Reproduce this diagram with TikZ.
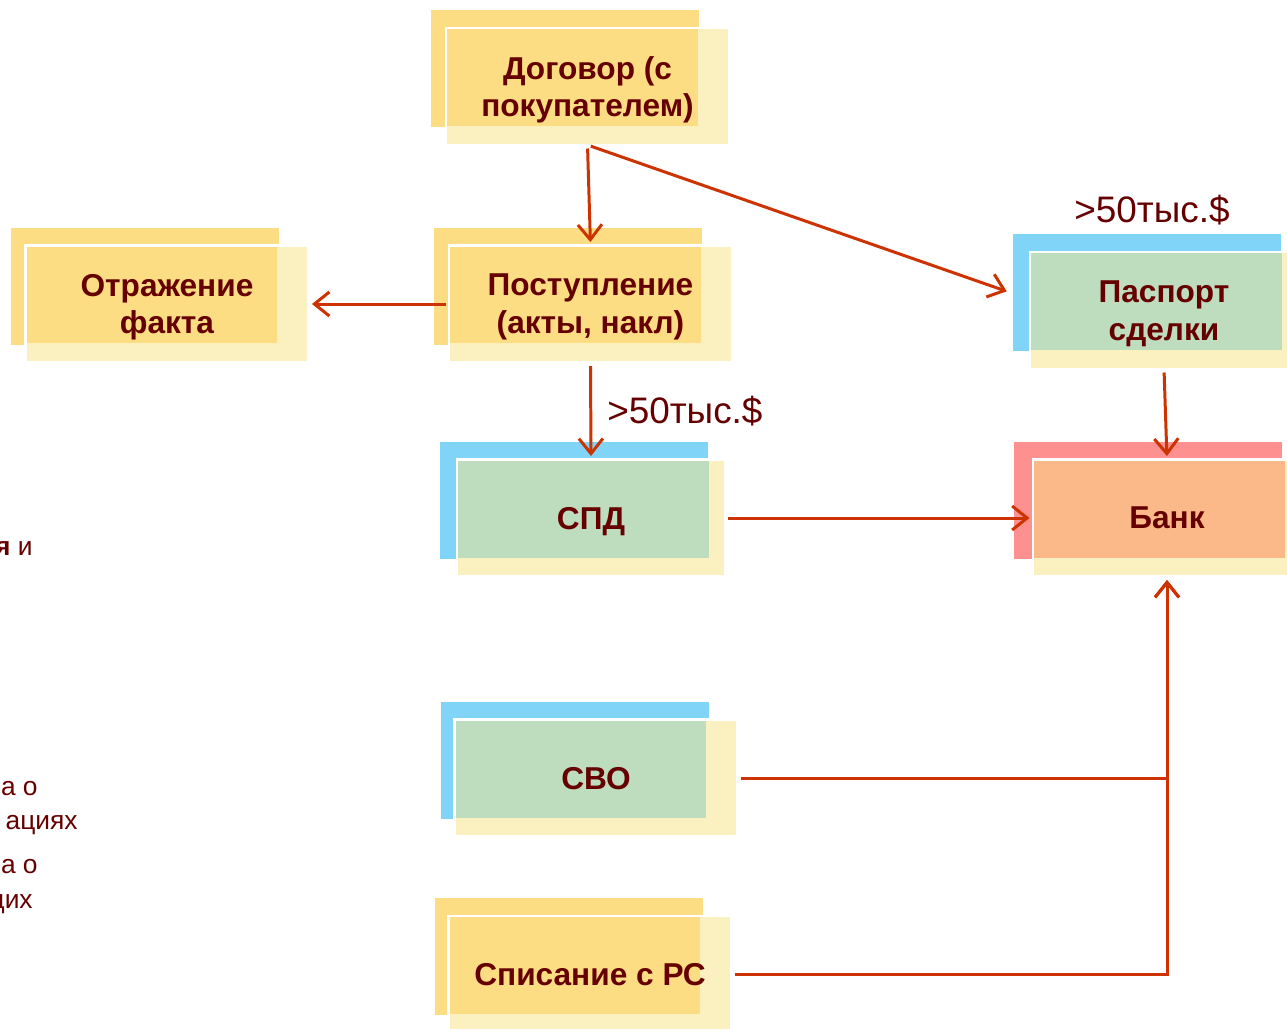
\documentclass[tikz,border=0pt]{standalone}
\usepackage{fontspec}
\setmainfont{Liberation Sans}
\usetikzlibrary{positioning}
\usetikzlibrary{arrows.meta}
\usetikzlibrary{backgrounds}
\usetikzlibrary{calc}

\definecolor{backyellow}{HTML}{FCDD84}
\definecolor{paleyellow}{HTML}{FBF0C0}
\definecolor{backblue}{HTML}{80D4F7}
\definecolor{frontgreen}{HTML}{BEDCBE}
\definecolor{backpink}{HTML}{FF9090}
\definecolor{frontorange}{HTML}{FBB98A}
\definecolor{darktext}{HTML}{660000}
\definecolor{arrowred}{HTML}{CC3300}

\begin{document}
\begin{tikzpicture}[x=0.02cm,y=-0.02cm,
	>={Straight Barb[length=3mm,width=4.8mm]},
	flow/.style={->,draw=arrowred,line width=1.7pt,shorten >=2pt,shorten <=2pt},
	doc box/.style={rectangle,inner sep=0pt,outer sep=0pt,
		minimum width=5.66cm,minimum height=2.34cm,text depth=0pt,
		fill=paleyellow,draw=white,line width=1.5pt,
		text=darktext,align=center,font=\bfseries\fontsize{18}{21.5}\selectfont,
		path picture={\fill[#1] (path picture bounding box.north west) rectangle ++(5.04cm,-1.96cm);}},
	narrow/.style={minimum width=5.36cm},
	limit/.style={text=darktext,font=\fontsize{21}{25}\selectfont,inner sep=0pt},
	cut text/.style={text=darktext,font=\fontsize{15}{18}\selectfont,inner sep=0pt,anchor=east}]
	
	\useasboundingbox (0,0) rectangle (1287,1028);
	\clip (0,0) rectangle (1287,1028);
	
	\node[doc box=backyellow] (contract) at (587.5,86.5) {Договор (с\\покупателем)};
	\node[doc box=backyellow] (record) at (167,304) {Отражение\\факта};
	\node[doc box=backyellow] (receipt) at (590.5,304) {Поступление\\(акты, накл)};
	\node[doc box=frontgreen, narrow] (passport) at (1164,310.5) {Паспорт\\сделки};
	\node[doc box=frontgreen, narrow] (spd) at (591,518) {СПД};
	\node[doc box=frontorange, narrow] (bank) at (1167,518) {Банк};
	\node[doc box=frontgreen] (svo) at (596,778) {СВО};
	\node[doc box=backyellow] (writeoff) at (590,974.5) {Списание с РС};
	
	% coloured sheets behind the boxes
	\begin{scope}[on background layer]
		\foreach \n/\c/\dx in {contract/backyellow/-15, record/backyellow/-15,
			receipt/backyellow/-15, passport/backblue/-17, spd/backblue/-17,
			bank/backpink/-19, svo/backblue/-14, writeoff/backyellow/-14}
		\fill[\c] ([shift={(\dx,-18)}]\n.north west) rectangle ++(268,117);
	\end{scope}
	
	\node[limit] (limit2) at (1152,210) {>50тыс.\$};
	
	\path[every edge/.append style={flow}]
	(contract.south) edge (receipt.north)
	(contract.south) edge ($(passport.west)+(-20,-18)$)
	(receipt.west) edge (record.east)
	(receipt.south) edge node[limit,anchor=west,xshift=0.3cm] (limit1) {>50тыс.\$} (spd.north)
	(spd.east) edge (bank.west)
	(passport.south) edge (bank.north);
	\draw[flow] (svo.east) -| (bank.south);
	\draw[flow] (writeoff.east) -| (bank.south);
	
	% text cut off at the left edge
	\node[cut text] (frag1) at (33,549) {\textbf{я} и};
	\node[cut text] (frag2) at (38,789) {а о};
	\node[cut text] (frag3) at (78,825) {ациях};
	\node[cut text] (frag4) at (38,867) {а о};
	\node[cut text] (frag5) at (33,904) {щих};
\end{tikzpicture}
\end{document}
